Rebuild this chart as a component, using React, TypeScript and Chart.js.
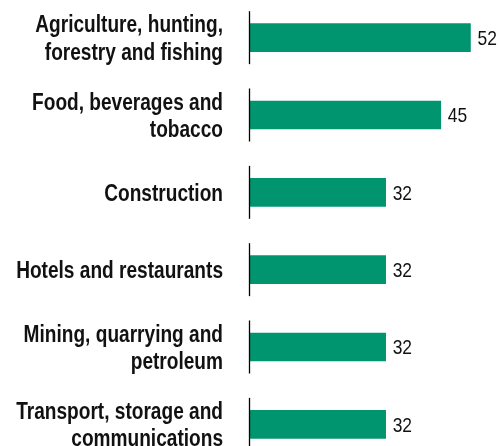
import React, { useEffect, useRef } from "react";
import { Chart, registerables } from "chart.js";

Chart.register(...registerables);

const categories: string[][] = [
  ["Agriculture, hunting,", "forestry and fishing"],
  ["Food, beverages and", "tobacco"],
  ["Construction"],
  ["Hotels and restaurants"],
  ["Mining, quarrying and", "petroleum"],
  ["Transport, storage and", "communications"],
];
const values: number[] = [52, 45, 32, 32, 32, 32];

const FONT = "'Liberation Sans Narrow', 'Arial Narrow', 'Liberation Sans', Arial, sans-serif";
const GREEN = "#00946f";
const CONDENSE = 0.83;
const TICK_PAD = 27;

const segmentAxisPlugin = {
  id: "segmentAxis",
  afterDatasetsDraw(chart: any) {
    const { ctx, scales } = chart;
    const xs = scales.x;
    const ys = scales.y;
    const x0 = xs.getPixelForValue(0) - 0.5;
    ctx.save();
    ctx.strokeStyle = "#000";
    ctx.lineWidth = 1.3;
    categories.forEach((_, i) => {
      const cy = ys.getPixelForValue(i);
      ctx.beginPath();
      ctx.moveTo(x0, cy - 26.5);
      ctx.lineTo(x0, cy + 26.5);
      ctx.stroke();
    });
    ctx.restore();
  },
};

const valueLabelPlugin = {
  id: "valueLabels",
  afterDatasetsDraw(chart: any) {
    const { ctx } = chart;
    const meta = chart.getDatasetMeta(0);
    ctx.save();
    ctx.fillStyle = "#111";
    ctx.font = `21px ${FONT}`;
    ctx.textAlign = "left";
    ctx.textBaseline = "middle";
    meta.data.forEach((bar: any, i: number) => {
      const x = bar.x + 7;
      ctx.save();
      ctx.translate(x, 0);
      ctx.scale(CONDENSE, 1);
      ctx.fillText(String(values[i]), 0, bar.y + 1.5);
      ctx.restore();
    });
    ctx.restore();
  },
};

export default function App() {
  const ref = useRef<HTMLCanvasElement>(null);
  useEffect(() => {
    if (!ref.current) return;
    const chart = new Chart(ref.current, {
      type: "bar",
      data: {
        labels: categories,
        datasets: [
          {
            data: values,
            backgroundColor: GREEN,
            borderWidth: 0,
            barThickness: 28,
          },
        ],
      },
      options: {
        indexAxis: "y",
        animation: false,
        responsive: true,
        maintainAspectRatio: false,
        layout: { padding: 0 },
        plugins: { legend: { display: false }, tooltip: { enabled: false } },
        scales: {
          x: {
            display: false,
            min: 0,
            max: 58.5,
          },
          y: {
            grid: { display: false, drawTicks: false },
            border: { display: false },
            afterFit: (scale: any) => {
              scale.width = 250;
              scale.paddingTop = 0;
              scale.paddingBottom = 0;
              if (!scale._condensed) {
                scale._condensed = true;
                scale._computeLabelArea = () => undefined;
                const orig = scale.drawLabels.bind(scale);
                scale.drawLabels = (area: any) => {
                  const c = scale.ctx;
                  const rx = scale.right - TICK_PAD;
                  c.save();
                  c.translate(rx, 2);
                  c.scale(CONDENSE, 1);
                  c.translate(-rx, 0);
                  orig(area);
                  c.restore();
                };
              }
            },
            ticks: {
              padding: TICK_PAD,
              color: "#111",
              font: { family: FONT, size: 23, weight: "bold", lineHeight: 1.2 },
            },
          },
        },
      },
      plugins: [segmentAxisPlugin, valueLabelPlugin],
    });
    return () => chart.destroy();
  }, []);
  return (
    <div style={{ position: "fixed", left: 0, top: -1, width: 498, height: 464 }}>
      <canvas ref={ref} />
    </div>
  );
}
